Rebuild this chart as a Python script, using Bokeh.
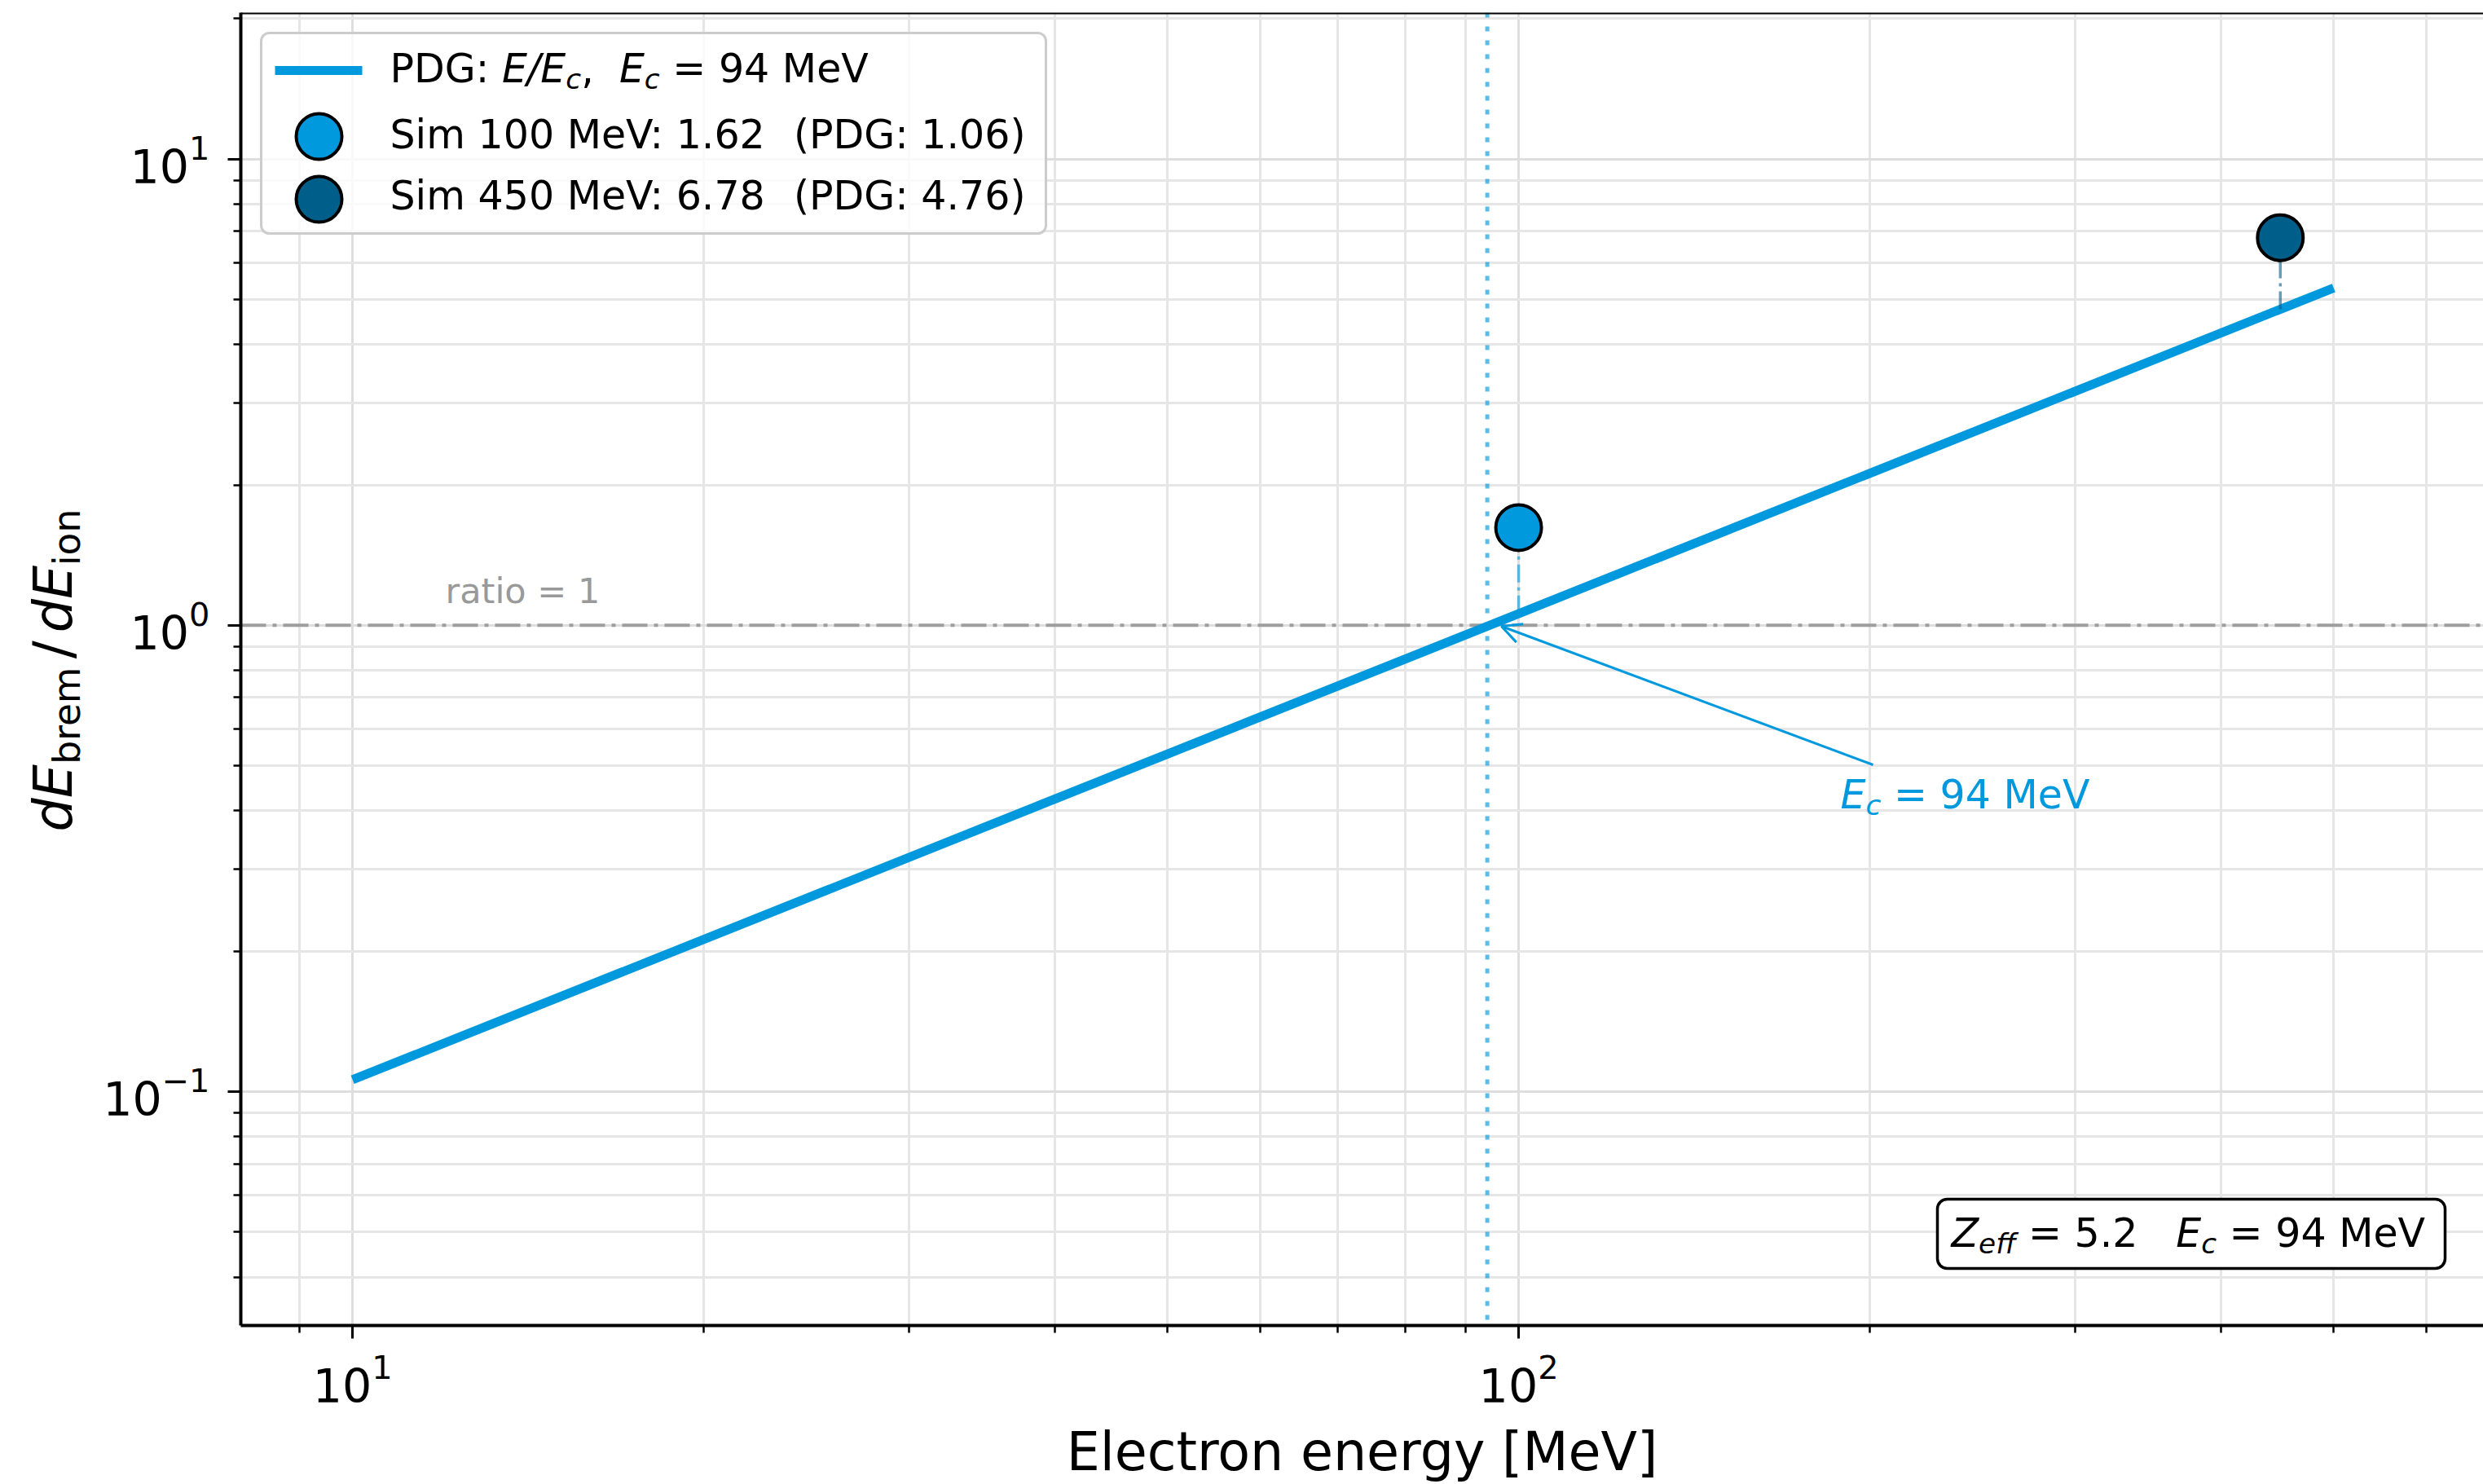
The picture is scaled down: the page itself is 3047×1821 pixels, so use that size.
import math
import re

from bokeh.plotting import figure
from bokeh.layouts import row
from bokeh.models import FixedTicker, Span, Label, BoxAnnotation, Arrow, OpenHead
from bokeh.core.properties import value
from bokeh.embed import file_html
from bokeh.resources import INLINE

# ---------------- data ----------------
pdg_energy = [10, 500]            # MeV
pdg_ratio = [0.106, 5.29]         # PDG estimate E / E_c
sim_energy = [100, 450]           # MeV
sim_ratio = [1.62, 6.78]          # simulated dE_brem / dE_ion
sim_pdg_ratio = [1.06, 4.76]      # PDG value at the same energies
sim_colors = ["#0099dd", "#005e8b"]
critical_energy = 94              # MeV
z_eff = 5.2

x_major_ticks = [10, 100]
x_minor_ticks = [9, 20, 30, 40, 50, 60, 70, 80, 90, 200, 300, 400, 500, 600]
y_major_ticks = [0.1, 1, 10]
y_minor_ticks = [0.04, 0.05, 0.06, 0.07, 0.08, 0.09,
                 0.2, 0.3, 0.4, 0.5, 0.6, 0.7, 0.8, 0.9,
                 2, 3, 4, 5, 6, 7, 8, 9, 20]

BLUE = "#0099dd"
FONT = "DejaVu Sans"

# ---------------- geometry ----------------
W, H = 3047, 1821
SIDE_W = 110                                  # strip that carries the y title
FL, FR, FT, FB = 295, 3047, 15, 1626          # frame edges in page pixels
X_LO, X_HI = 8.02, 672.0
Y_LO, Y_HI = 0.0315, 20.6
BASELINE_FIX = 0.35                           # text anchor correction, in em


def x_at(px):
    lo, hi = math.log10(X_LO), math.log10(X_HI)
    return 10 ** (lo + (px - FL) / (FR - FL) * (hi - lo))


def y_at(py):
    lo, hi = math.log10(Y_LO), math.log10(Y_HI)
    return 10 ** (lo + (FB - py) / (FB - FT) * (hi - lo))


# DejaVu Sans advance widths (units per em = 2048)
ADV = {" ": 651, ",": 651, ".": 651, "/": 690, ":": 690, "=": 1716,
       "(": 799, ")": 799, "[": 799, "]": 799,
       "D": 1577, "E": 1294, "G": 1589, "M": 1767, "P": 1235, "S": 1300,
       "V": 1401, "Z": 1405, "b": 1300, "c": 1126, "d": 1300, "e": 1260,
       "f": 721, "i": 569, "m": 1995, "n": 1298, "o": 1253, "r": 842}
for ch in "0123456789":
    ADV[ch] = 1303


def text_w(s, size):
    return sum(ADV.get(ch, 1250) for ch in s) / 2048.0 * size


p = figure(width=W - SIDE_W, height=H, x_axis_type="log", y_axis_type="log",
           x_range=(X_LO, X_HI), y_range=(Y_LO, Y_HI),
           output_backend="svg", toolbar_location=None, title=None,
           min_border_left=FL - SIDE_W, min_border_right=0,
           min_border_top=FT, min_border_bottom=H - FB,
           background_fill_color="white", border_fill_color="white",
           outline_line_color=None)

# narrow strip on the left for the rotated y-axis title; its frame spans the
# same rows as the main frame, data y = page pixels counted from the bottom
side = figure(width=SIDE_W, height=H, x_range=(0, SIDE_W), y_range=(H - FB, H - FT),
              output_backend="svg", toolbar_location=None, title=None,
              min_border_left=0, min_border_right=0,
              min_border_top=FT, min_border_bottom=H - FB,
              x_axis_location=None, y_axis_location=None,
              background_fill_color="white", border_fill_color="white",
              outline_line_color=None)
side.xgrid.visible = False
side.ygrid.visible = False


def rich(runs, x0, base, size, color, level="overlay"):
    """Lay out runs of (text, italic, subscript) along a horizontal baseline."""
    pos = x0
    for txt, italic, sub in runs:
        fs = size * 0.7 if sub else size
        shift = size * 0.16 if sub else 0.0
        fix = BASELINE_FIX * fs
        for m in re.finditer(r"\S+(?: \S+)*", txt):
            off = text_w(txt[:m.start()], fs)
            p.add_layout(Label(x=x_at(pos + off), y=y_at(base + shift - fix),
                               text=m.group(0),
                               text_font=FONT, text_font_size=f"{fs:.1f}px",
                               text_font_style="italic" if italic else "normal",
                               text_color=color, text_align="left",
                               text_baseline="alphabetic", level=level))
        pos += text_w(txt, fs)


def rich_vertical(runs, y0, base_x, size, color):
    """Runs laid out bottom-to-top; each piece is placed by its centre."""
    pos = y0
    for txt, italic, sub, pad in runs:
        fs = size * 0.7 if sub else size
        shift = size * 0.16 if sub else 0.0
        w = text_w(txt, fs)
        pos -= pad
        cx = base_x + shift - BASELINE_FIX * fs
        cy = pos - w / 2
        side.text(x=[cx], y=[H - cy], text=[txt],
                  angle=math.pi / 2, text_font=value(FONT),
                  text_font_size=value(f"{fs:.1f}px"),
                  text_font_style="italic" if italic else "normal",
                  text_color=color, text_align="center", text_baseline="middle")
        pos -= w + pad


# ---------------- axes, ticks, grid ----------------
xt = FixedTicker(ticks=x_major_ticks, minor_ticks=x_minor_ticks)
yt = FixedTicker(ticks=y_major_ticks, minor_ticks=y_minor_ticks)
p.xaxis.ticker = xt
p.yaxis.ticker = yt
p.xgrid.ticker = xt
p.ygrid.ticker = yt

for ax in (p.xaxis, p.yaxis):
    ax.axis_line_color = "black"
    ax.axis_line_width = 4
    ax.major_tick_line_color = "black"
    ax.major_tick_line_width = 3
    ax.major_tick_out = 16
    ax.major_tick_in = 0
    ax.minor_tick_line_color = "black"
    ax.minor_tick_line_width = 2.5
    ax.minor_tick_out = 9
    ax.minor_tick_in = 0
    ax.major_label_text_font = FONT
    ax.major_label_text_font_size = "57px"
    ax.major_label_text_color = "black"

p.xaxis.major_label_standoff = 18
p.yaxis.major_label_standoff = 22
p.xaxis.axis_label = "Electron energy [MeV]"
p.xaxis.axis_label_text_font = FONT
p.xaxis.axis_label_text_font_size = "65px"
p.xaxis.axis_label_text_font_style = "normal"
p.xaxis.axis_label_text_color = "black"
p.xaxis.axis_label_standoff = 20
p.yaxis.axis_label = None

for g in (p.xgrid, p.ygrid):
    g.grid_line_color = "#dedede"
    g.grid_line_width = 3
    g.minor_grid_line_color = "#e6e6e6"
    g.minor_grid_line_width = 3

# top spine
p.add_layout(Span(location=Y_HI, dimension="width", line_color="black", line_width=4))

# reference lines
p.add_layout(Span(location=1, dimension="width", line_color="#9e9e9e", line_width=4,
                  line_dash="31 8 5 8", level="underlay"))
p.add_layout(Span(location=critical_energy, dimension="height", line_color=BLUE,
                  line_alpha=0.65, line_width=5, line_dash="6 11", level="underlay"))

# ---------------- data marks ----------------
p.line(pdg_energy, pdg_ratio, line_color=BLUE, line_width=11)
p.segment(x0=sim_energy, y0=sim_pdg_ratio, x1=sim_energy, y1=sim_ratio,
          line_color=sim_colors, line_alpha=0.6, line_width=3.5, line_dash="22 6 4 6")
p.scatter(sim_energy, sim_ratio, size=56, fill_color=sim_colors,
          line_color="black", line_width=4)

# ---------------- texts in the plot ----------------
rich([("ratio = 1", False, False)], 546, 740, 43, "#999999", level="annotation")

p.add_layout(Arrow(end=OpenHead(size=24, line_color=BLUE, line_width=3),
                   x_start=x_at(2298), y_start=y_at(938),
                   x_end=x_at(1842), y_end=y_at(768),
                   line_color=BLUE, line_width=3))
rich([("E", True, False), ("c", True, True), (f" = {critical_energy} MeV", False, False)],
     2258, 992, 49, BLUE)

p.add_layout(BoxAnnotation(left=x_at(2377), right=x_at(3000), top=y_at(1471), bottom=y_at(1556),
                           fill_color="white", fill_alpha=1.0, line_color="black",
                           line_alpha=1.0, line_width=3.5, border_radius=12))
rich([("Z", True, False), ("eff", True, True), (f" = {z_eff}   ", False, False),
      ("E", True, False), ("c", True, True), (f" = {critical_energy} MeV", False, False)],
     2394, 1530, 49, "black")

# ---------------- legend ----------------
p.add_layout(BoxAnnotation(left=x_at(320), right=x_at(1283), top=y_at(40), bottom=y_at(286),
                           fill_color="white", fill_alpha=0.8, line_color="#cccccc",
                           line_alpha=1.0, line_width=3, border_radius=10))
p.line([x_at(337), x_at(444)], [y_at(86), y_at(86)], line_color=BLUE, line_width=11,
       line_cap="butt", level="overlay")
rich([("PDG: ", False, False), ("E/E", True, False), ("c", True, True), (",  ", False, False),
      ("E", True, False), ("c", True, True), (f" = {critical_energy} MeV", False, False)],
     478, 101, 49, "black")

legend_rows_y = [167, 244]
legend_base_y = [182, 257]
p.scatter([x_at(391)] * 2, [y_at(v) for v in legend_rows_y], size=56,
          fill_color=sim_colors, line_color="black", line_width=4, level="overlay")
for e, r, pr, by in zip(sim_energy, sim_ratio, sim_pdg_ratio, legend_base_y):
    rich([(f"Sim {e} MeV: {r:.2f}  (PDG: {pr:.2f})", False, False)], 478, by, 49, "black")

# ---------------- y axis title ----------------
rich_vertical([("dE", True, False, 0), ("brem", False, True, 0), ("/", False, False, 10),
               ("dE", True, False, 0), ("ion", False, True, 0)],
              1020, 88, 65, "black")

layout = row(side, p, spacing=0)
open("out.html", "w").write(file_html(layout, INLINE))
